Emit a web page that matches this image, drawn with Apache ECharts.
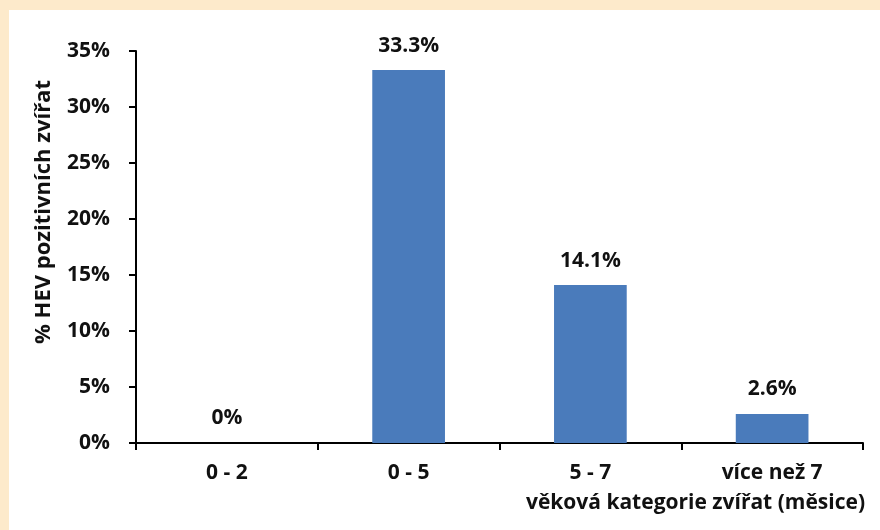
<!DOCTYPE html>
<html>
<head>
<meta charset="utf-8">
<script src="https://cdn.jsdelivr.net/npm/echarts@6/dist/echarts.min.js"></script>
<style>
  html, body { margin: 0; padding: 0; background: #fdeacb; }
  #chart { position: absolute; left: 9px; top: 10px; width: 871px; height: 520px; background: #fff; }
</style>
</head>
<body>
<div id="chart"></div>
<script>
// věkové kategorie a podíl HEV pozitivních zvířat (%)
var categories = ['0 - 2', '0 - 5', '5 - 7', 'více než 7'];
var positive = [0, 33.3, 14.1, 2.6];
var yTicks = [0, 5, 10, 15, 20, 25, 30, 35];

var font = '"Open Sans", "DejaVu Sans", sans-serif';

var myChart = echarts.init(document.getElementById('chart'));

var option = {
    animation: false,
    textStyle: { fontFamily: font },
    grid: {
        left: 127,
        right: 17,
        top: 41,
        bottom: 87
    },
    xAxis: {
        type: 'category',
        data: categories,
        name: 'věková kategorie zvířat (měsice)',
        nameLocation: 'end',
        nameGap: 2,
        nameTextStyle: {
            color: '#111',
            fontSize: 21,
            fontWeight: 'bold',
            align: 'right',
            verticalAlign: 'top',
            padding: [50, 0, 0, 0]
        },
        axisLine: { lineStyle: { color: '#000', width: 2 } },
        axisTick: { show: true, length: 7, lineStyle: { color: '#000', width: 2 } },
        axisLabel: {
            color: '#111',
            fontSize: 21,
            fontWeight: 'bold',
            margin: 20
        }
    },
    yAxis: {
        type: 'value',
        min: yTicks[0],
        max: yTicks[yTicks.length - 1],
        interval: 5,
        name: '% HEV pozitivních zvířat',
        nameLocation: 'middle',
        nameGap: 81,
        nameTextStyle: {
            color: '#111',
            fontSize: 22,
            fontWeight: 'bold',
            padding: [0, 0, 0, 70]
        },
        splitLine: { show: false },
        axisLine: { show: true, lineStyle: { color: '#000', width: 2 } },
        axisTick: { show: true, length: 7, lineStyle: { color: '#000', width: 2 } },
        axisLabel: {
            color: '#111',
            fontSize: 21,
            fontWeight: 'bold',
            margin: 26,
            formatter: '{value}%'
        }
    },
    series: [
        {
            type: 'bar',
            data: positive,
            barWidth: '40%',
            itemStyle: { color: '#4a7bbb' },
            label: {
                show: true,
                position: 'top',
                distance: 14,
                color: '#111',
                fontSize: 21,
                fontWeight: 'bold',
                formatter: function (p) {
                    return p.value === 0 ? '0%' : p.value.toFixed(1) + '%';
                }
            }
        }
    ]
};

myChart.setOption(option);
</script>
</body>
</html>
